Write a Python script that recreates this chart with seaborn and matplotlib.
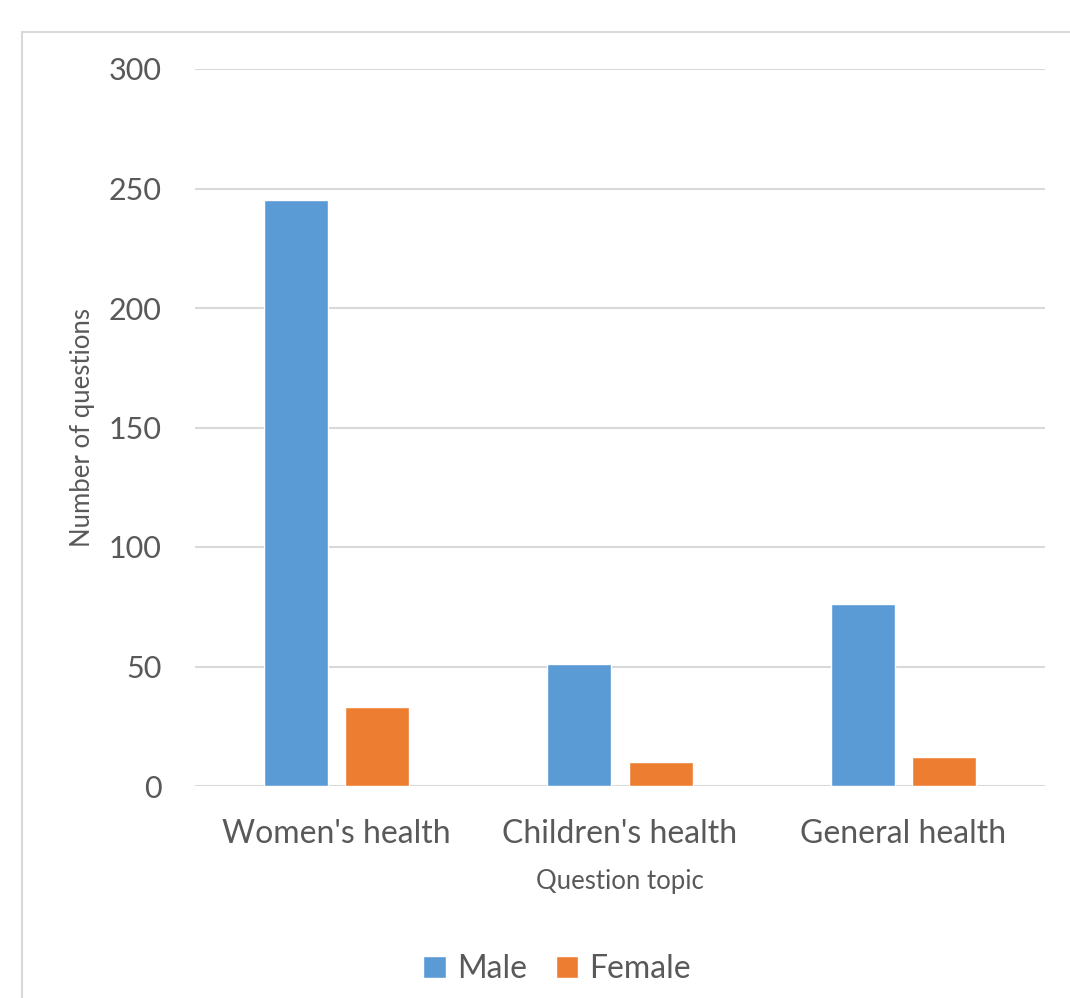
import matplotlib
matplotlib.use("Agg")
import matplotlib.pyplot as plt
import seaborn as sns
import pandas as pd
from matplotlib.lines import Line2D

categories = ["Women's health", "Children's health", "General health"]
male = [245, 51, 76]
female = [33, 10, 12]
series = ["Male", "Female"]
colors = ["#5B9BD5", "#ED7D31"]
yticks = [0, 50, 100, 150, 200, 250, 300]

df = pd.DataFrame({
    "topic": categories * 2,
    "count": male + female,
    "sex": [series[0]] * 3 + [series[1]] * 3,
})

sns.set_style("white")
plt.rcParams['font.family'] = ['Lato', 'DejaVu Sans']
txt = "#595959"

fig = plt.figure(figsize=(10.7, 9.98), dpi=100)
ax = fig.add_axes([195/1070, 1-786/998, 850/1070, (786-69)/998])

sns.barplot(data=df, x="topic", y="count", hue="sex", order=categories,
            hue_order=series, palette=colors, width=0.572, gap=0.21,
            saturation=1, ax=ax, legend=True)

ax.set_ylim(0, 300)
ax.set_xlim(-0.5, 2.5)
ax.set_yticks(yticks)
ax.set_yticklabels([str(t) for t in yticks])
ax.yaxis.grid(True, color="#d9d9d9", linewidth=1.5)
ax.set_axisbelow(True)
for s in ax.spines.values():
    s.set_visible(False)
ax.tick_params(axis="both", length=0, colors=txt)
ax.tick_params(axis="y", pad=24, labelsize=22)
ax.tick_params(axis="x", pad=24, labelsize=23)
ax.set_xlabel("Question topic", color=txt, fontsize=18.5, labelpad=14)
ax.set_ylabel("Number of questions", color=txt, fontsize=18.5, labelpad=10)

leg = ax.legend(loc="center", bbox_to_anchor=(557/1070, 1-969/998), bbox_transform=fig.transFigure,
                ncol=2, frameon=False, fontsize=23, handlelength=0.7, handleheight=0.7,
                handletextpad=0.35, columnspacing=0.9)
for t in leg.get_texts():
    t.set_color(txt)

fig.add_artist(Line2D([22/1070, 1.0], [1-32/998, 1-32/998], color="#d9d9d9", lw=1.5,
                      transform=fig.transFigure))
fig.add_artist(Line2D([22/1070, 22/1070], [1-32/998, 0], color="#d9d9d9", lw=1.5,
                      transform=fig.transFigure))

fig.savefig("out.png", dpi=100, facecolor="white")
